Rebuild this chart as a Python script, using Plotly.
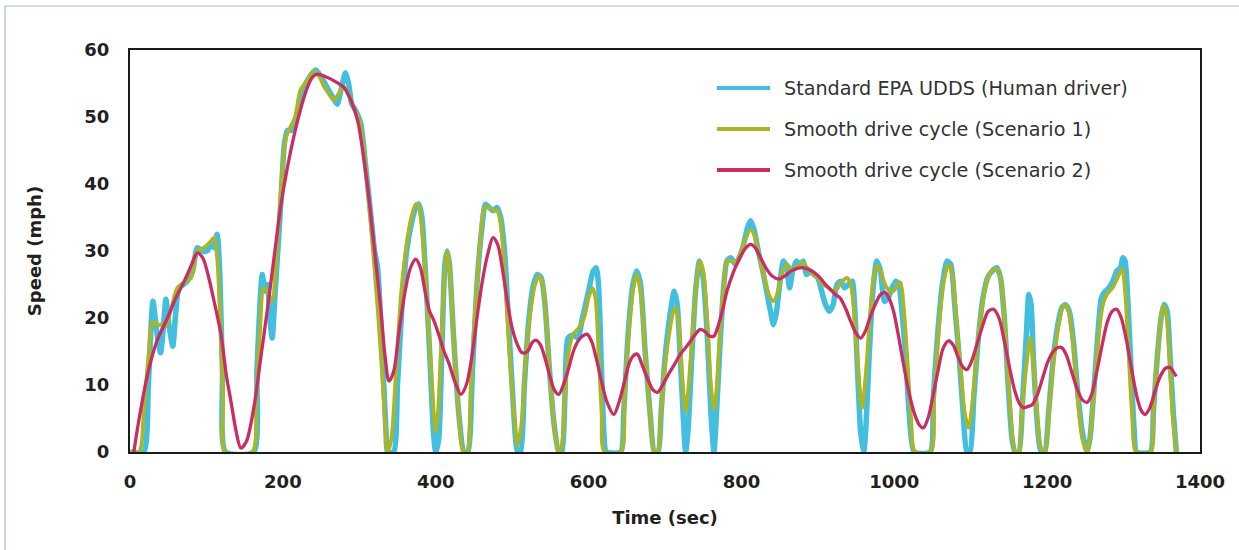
import plotly.graph_objects as go

# ---------------- data ----------------
series_names = [
    "Standard EPA UDDS (Human driver)",
    "Smooth drive cycle (Scenario 1)",
    "Smooth drive cycle (Scenario 2)",
]
series_colors = ["#41BEE0", "#A8B628", "#CB2C62"]

t_udds = [0, 18, 24, 30, 35, 40, 44, 47, 51, 56, 60, 64, 70, 75, 82, 88, 95, 101, 106, 110, 114, 117, 121, 125,
          162, 166, 170, 173, 177, 180, 183, 186, 190, 197, 202, 206, 212, 215, 220, 228, 235, 243, 250, 258, 265,
          271, 276, 282, 286, 290, 295, 302, 308, 315, 320, 324, 330, 335, 337, 345, 350, 356, 362, 368, 374, 378,
          382, 386, 392, 397, 400, 404, 408, 412, 415, 418, 423, 430, 437, 442, 448, 454, 460, 465, 470, 475, 480,
          485, 490, 496, 502, 507, 511, 516, 522, 528, 533, 538, 543, 549, 555, 561, 565, 569, 573, 580, 586, 592,
          600, 606, 610, 613, 617, 621, 623, 642, 646, 652, 658, 663, 668, 674, 681, 686, 691, 695, 700, 706, 712,
          716, 720, 724, 727, 730, 735, 740, 745, 750, 755, 760, 764, 767, 772, 777, 781, 786, 792, 797, 803, 808,
          812, 817, 822, 828, 833, 838, 842, 846, 850, 855, 859, 863, 867, 872, 877, 881, 885, 890, 895, 900, 905,
          910, 915, 920, 925, 930, 935, 940, 945, 948, 952, 956, 960, 963, 967, 972, 977, 982, 987, 992, 997, 1002,
          1006, 1010, 1015, 1020, 1026, 1047, 1051, 1057, 1063, 1069, 1074, 1079, 1085, 1090, 1095, 1099, 1104,
          1110, 1116, 1122, 1128, 1134, 1139, 1144, 1149, 1154, 1158, 1163, 1168, 1173, 1176, 1179, 1182, 1186,
          1190, 1193, 1197, 1202, 1208, 1214, 1219, 1224, 1229, 1234, 1240, 1246, 1252, 1256, 1261, 1266, 1271,
          1276, 1281, 1286, 1291, 1296, 1299, 1302, 1305, 1310, 1314, 1317, 1335, 1339, 1344, 1349, 1353, 1357,
          1361, 1365, 1369]
v_udds = [0, 0, 10, 22.5, 18, 14.8, 19, 22.8, 19, 15.8, 21, 24.5, 25, 25.5, 27, 30.5, 30, 30, 31, 30.5, 32.5, 28, 12, 0,
          0, 12, 22, 26.5, 24, 25, 20, 17, 24, 36.5, 46, 48, 48, 48.5, 51, 54.4, 56, 57, 56, 54.4, 53,
          51.9, 54, 56.6, 55, 52, 51, 49, 43, 35.5, 30, 27.5, 15, 3, 0, 0, 10, 22, 30, 34, 36.5, 37,
          35, 28, 15, 3, 0, 2, 15, 28, 30, 28, 18, 6, 0, 0, 12, 25, 33, 37, 36.5, 36, 36.5,
          35, 30, 18, 6, 0, 0, 10, 20, 25, 26.5, 26, 22, 12, 4, 0, 0, 8, 17, 17.5, 17, 20,
          24, 27, 27.5, 25, 12, 1, 0, 0, 6, 18, 25, 27, 25, 15, 5, 0, 0, 6, 14, 20, 24,
          22, 14, 5, 0, 3, 14, 24, 28.5, 26, 18, 6, 0, 5, 16, 25, 28.5, 29, 28, 29, 31, 33.5,
          34.5, 33, 30, 27, 24, 21, 19, 21, 25, 28.5, 27.5, 24.5, 27, 28.5, 28, 28.5, 26.5, 27, 26.5, 26, 24,
          22, 21, 22, 25, 25.5, 24.5, 25, 25.5, 22, 12, 3, 0, 4, 14, 24, 28.5, 27, 22.5, 23, 24.5, 25.5,
          25, 21, 14, 5, 0, 0, 8, 18, 25, 28.5, 28, 22, 14, 6, 0, 0, 8,
          17, 23, 26, 27, 27.5, 26, 20, 10, 2, 0, 0, 8, 18, 23.5, 22, 14, 6,
          1, 0, 0, 6, 14, 19, 21.5, 22, 21, 17, 9, 3, 0, 2, 9, 17, 23,
          24, 24.5, 25.5, 27, 27.5, 29, 28.5, 24, 12, 3, 0, 0, 6, 14, 20, 22, 21,
          14, 6, 0]

t_s1 = [0, 12, 18, 24, 30, 36, 42, 47, 53, 62, 70, 80, 88, 97, 106, 110, 114, 118, 122, 125,
        160, 165, 170, 175, 180, 186, 192, 198, 204, 210, 216, 223, 232, 241, 248, 254, 260, 267, 273, 280,
        287, 294, 300, 306, 312, 318, 325, 332, 337, 342, 348, 355, 362, 368, 374, 378, 383, 388, 393, 398,
        400, 403, 408, 412, 415, 418, 423, 430, 436, 441, 446, 452, 458, 464, 470, 476, 481, 486, 491, 497,
        503, 507, 512, 518, 524, 530, 535, 540, 545, 551, 557, 561, 565, 569, 574, 580, 587, 594, 600, 605,
        609, 613, 617, 621, 642, 647, 652, 658, 663, 668, 674, 681, 686, 690, 695, 700, 706, 711, 714, 718,
        722, 727, 731, 736, 741, 746, 750, 755, 760, 764, 768, 772, 777, 781, 786, 792, 798, 804, 812, 818,
        824, 830, 836, 842, 848, 854, 860, 866, 872, 879, 886, 893, 900, 907, 914, 920, 926, 932, 938, 943,
        948, 953, 958, 963, 968, 973, 977, 982, 988, 994, 999, 1004, 1008, 1012, 1017, 1022, 1027, 1047, 1052,
        1058, 1064, 1071, 1076, 1081, 1087, 1092, 1097, 1102, 1108, 1114, 1120, 1127, 1134, 1139, 1144, 1149,
        1154, 1158, 1163, 1167, 1172, 1178, 1183, 1188, 1193, 1197, 1203, 1209, 1215, 1220, 1224, 1228, 1234,
        1240, 1246, 1252, 1256, 1262, 1268, 1273, 1278, 1286, 1292, 1298, 1302, 1306, 1311, 1317, 1335, 1339,
        1344, 1349, 1352, 1356, 1360, 1364, 1369]
v_s1 = [0, 0, 6, 14, 19.5, 19, 19, 18.8, 21, 24.5, 25.3, 26, 30, 30.5, 31.5, 32, 29, 20, 8, 0,
        0, 8, 18, 24.5, 24, 22.5, 30, 40, 47, 48.5, 50, 54, 55.5, 56.8, 56, 54.5, 53.5, 52.5, 53.5, 54.5,
        53, 51, 49.5, 45, 38, 30, 20, 8, 0, 2, 12, 24, 31, 35, 37, 36.5, 32, 24, 14, 5,
        3, 6, 18, 27, 30, 28, 18, 6, 0, 0, 10, 22, 31, 36.5, 36.5, 36, 36, 33, 25, 14,
        5, 1, 4, 14, 21, 25, 26.3, 25, 19, 9, 2, 0, 1, 8, 15, 17.6, 18.5, 20, 23, 24.5,
        23, 15, 6, 0, 0, 8, 17, 24, 26.5, 24, 15, 5, 0, 0, 6, 13, 18, 21, 21.5, 19,
        12, 6.1, 10, 18, 25, 28.5, 27, 20, 10, 6.4, 10, 18, 25, 28.5, 28.5, 28.3, 29.5, 31.5, 33.2, 32,
        29, 26, 23.5, 22.5, 24, 27, 28, 27, 27.5, 28.3, 27.5, 26.5, 26, 25, 24.5, 24, 24.5, 25.5, 26, 25,
        20, 12, 6.6, 12, 20, 26, 27.8, 27, 25, 24, 24, 25, 25.3, 22, 14, 5, 0, 0, 8,
        18, 25, 28, 26.5, 20, 12, 6, 3.6, 7, 15, 21, 25, 27, 27.3, 26, 20, 11,
        3, 0, 0, 6, 12, 17, 12, 4, 0, 0, 7, 14, 19, 21.5, 22, 21, 16,
        8, 2, 0, 2, 10, 18, 22, 23.5, 24.6, 26, 27.3, 24, 16, 6, 0, 0, 6,
        14, 20, 21.8, 20.5, 14, 6, 0]

t_s2 = [5, 12, 23, 35, 49, 60, 71, 80, 88, 95, 102, 110, 119, 126, 132, 139, 145, 152, 162, 171,
        180, 189, 197, 206, 215, 224, 232, 239, 245, 256, 267, 280, 289, 298, 305, 311, 320, 328, 334, 339,
        345, 352, 360, 367, 374, 380, 386, 392, 398, 404, 411, 418, 425, 433, 440, 447, 454, 461, 468, 475,
        481, 487, 493, 500, 507, 513, 520, 526, 531, 537, 543, 549, 555, 561, 567, 574, 580, 587, 592, 598,
        604, 610, 617, 624, 633, 640, 647, 654, 660, 664, 670, 677, 684, 690, 697, 704, 712, 720, 730, 738,
        746, 752, 758, 764, 770, 776, 781, 790, 798, 806, 812, 818, 825, 833, 841, 849, 857, 865, 873, 881,
        889, 896, 903, 910, 917, 923, 929, 936, 943, 950, 956, 962, 968, 975, 982, 988, 993, 999, 1006, 1013,
        1020, 1027, 1033, 1038, 1044, 1050, 1057, 1064, 1071, 1077, 1083, 1089, 1095, 1101, 1108, 1116, 1123,
        1130, 1137, 1144, 1151, 1158, 1164, 1169, 1175, 1180, 1187, 1194, 1201, 1208, 1214, 1219, 1225, 1232,
        1239, 1246, 1252, 1258, 1265, 1272, 1279, 1285, 1291, 1297, 1304, 1311, 1318, 1323, 1328, 1334, 1341,
        1348, 1355, 1361, 1365, 1369]
v_s2 = [0, 5, 11.6, 16.5, 20, 23, 25.5, 27.8, 29.7, 29, 26.5, 22.5, 17.6, 11.5, 7.6, 3, 0.6, 1.5, 6.6, 14,
        21.5, 29.5, 36.5, 42.5, 47.4, 51.5, 54.4, 56, 56.4, 56, 55.4, 54.4, 52.5, 49.4, 44.5, 39.5, 30, 21.5, 14, 10.6,
        12, 18, 24, 27.5, 28.8, 27.5, 24, 21, 19.5, 17.5, 15, 13, 10.5, 8.6, 10, 14, 20, 25.5, 29.5, 32,
        31, 27.5, 23, 18.5, 16, 14.8, 15, 16.3, 16.7, 16, 14, 11.5, 9.3, 8.6, 10, 12.5, 15, 16.7, 17.3, 17.6,
        16.5, 14, 10.5, 7.5, 5.6, 7.5, 10.5, 13.5, 14.5, 14.6, 13, 11, 9.3, 8.9, 10, 11.5, 13, 14.6, 16, 17.3,
        18.3, 18, 17.3, 17.3, 19, 21.5, 24, 27, 29, 30.5, 31, 30.5, 29, 27.3, 26.2, 25.8, 26.3, 27, 27.4, 27.5,
        27.2, 26.7, 26, 25, 24.2, 23.5, 23, 21.5, 19.5, 17.7, 17, 18, 20, 22, 23.5, 23.8, 23, 21, 17, 12.5,
        8.5, 5.5, 4, 3.6, 5, 8, 12, 15.5, 16.6, 16, 14.3, 12.8, 12.3, 13.5, 16, 19, 21,
        21.3, 20, 16.5, 12.5, 9, 7.2, 6.6, 6.8, 7, 8.5, 11, 13.5, 15, 15.6, 15.6, 14.5, 12,
        9.5, 7.8, 7.4, 8.5, 12, 16, 19.5, 21, 21.3, 20, 16.5, 12, 8, 6.2, 5.6, 6.5, 9,
        11.3, 12.5, 12.6, 12, 11.3]

x_ticks = [0, 200, 400, 600, 800, 1000, 1200, 1400]
y_ticks = [0, 10, 20, 30, 40, 50, 60]
x_title = "Time (sec)"
y_title = "Speed (mph)"

# ---------------- layout helpers (pixel -> paper) ----------------
W, H = 1239, 550
ML, MR, MT, MB = 130, 39, 50, 98
PW, PH = W - ML - MR, H - MT - MB


def px(xp):
    return (xp - ML) / PW


def py(yp):
    return (H - MB - yp) / PH


FONT = "DejaVu Sans"
TXT = "#231F20"

fig = go.Figure()
widths = [5.5, 3.8, 3.3]
smooth = [0.6, 0.8, 0.9]
for (tx, vy), name, col, w, s in zip([(t_udds, v_udds), (t_s1, v_s1), (t_s2, v_s2)],
                                     series_names, series_colors, widths, smooth):
    fig.add_trace(go.Scatter(x=tx, y=vy, mode="lines", name=name,
                             line=dict(color=col, width=w, shape="spline", smoothing=s),
                             showlegend=False))

# custom legend (long line samples like the reference)
shapes = []
annotations = []
legend_rows = [88, 129, 170]
for name, col, yrow in zip(series_names, series_colors, legend_rows):
    shapes.append(dict(type="line", xref="paper", yref="paper",
                       x0=px(717), x1=px(770), y0=py(yrow), y1=py(yrow),
                       line=dict(color=col, width=4)))
    annotations.append(dict(xref="paper", yref="paper", x=px(782), y=py(yrow),
                            xanchor="left", yanchor="middle", showarrow=False,
                            text=name, font=dict(family=FONT, size=19.2, color="#333333")))

# outer light frame
shapes.append(dict(type="rect", xref="paper", yref="paper",
                   x0=px(5), x1=px(1300), y0=py(600), y1=py(6),
                   line=dict(color="#A9BCCC", width=1.2), fillcolor="rgba(0,0,0,0)", layer="below"))

axis_font = dict(family=FONT, size=18, color=TXT, weight="bold")

fig.update_layout(
    width=W, height=H,
    margin=dict(l=ML, r=MR, t=MT, b=MB, autoexpand=False),
    paper_bgcolor="white", plot_bgcolor="white",
    shapes=shapes, annotations=annotations,
    font=dict(family=FONT, color=TXT),
    xaxis=dict(range=[0, 1400], tickvals=x_ticks, ticks="", showgrid=False, zeroline=False,
               showline=True, linecolor="#1A1A1A", linewidth=2, mirror=True,
               tickfont=axis_font, ticklabelstandoff=12, automargin=False,
               title=dict(text=x_title, standoff=21, font=axis_font)),
    yaxis=dict(range=[0, 60], tickvals=y_ticks, ticks="", showgrid=False, zeroline=False,
               showline=True, linecolor="#1A1A1A", linewidth=2, mirror=True,
               tickfont=axis_font, ticklabelstandoff=15, automargin=False,
               title=dict(text=y_title, standoff=38, font=axis_font)),
)

fig.write_html("out.html", config={"displayModeBar": False},
               post_script="document.body.style.margin='0';")
